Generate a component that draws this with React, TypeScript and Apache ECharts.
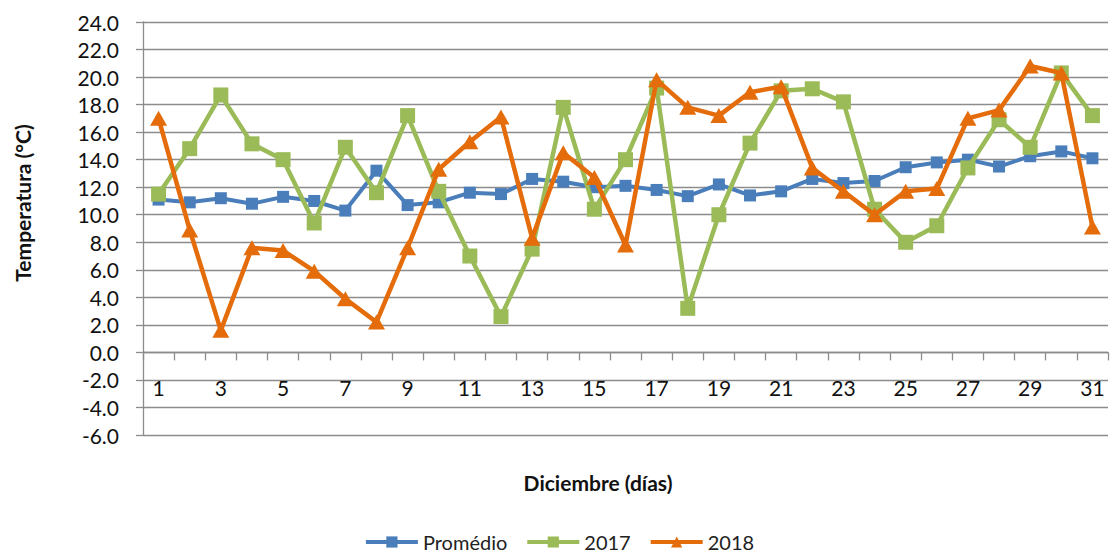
import React, { useEffect, useRef } from "react";
import * as echarts from "echarts";

const days = Array.from({ length: 31 }, (_, i) => String(i + 1));

const promedio = [11.1, 10.9, 11.2, 10.8, 11.3, 11.0, 10.3, 13.2, 10.7, 10.9, 11.6, 11.5, 12.6, 12.4, 12.0, 12.1, 11.8, 11.35, 12.2, 11.4, 11.7, 12.6, 12.3, 12.45, 13.45, 13.8, 14.0, 13.5, 14.25, 14.6, 14.1];
const y2017 = [11.5, 14.8, 18.7, 15.15, 14.0, 9.4, 14.9, 11.6, 17.2, 11.7, 7.0, 2.6, 7.5, 17.8, 10.4, 14.0, 19.2, 3.2, 10.0, 15.2, 19.0, 19.15, 18.2, 10.4, 8.0, 9.2, 13.4, 16.9, 14.9, 20.3, 17.2];
const y2018 = [17.0, 8.9, 1.6, 7.6, 7.4, 5.9, 3.9, 2.2, 7.6, 13.3, 15.3, 17.1, 8.3, 14.5, 12.7, 7.8, 19.8, 17.8, 17.2, 18.9, 19.3, 13.4, 11.7, 10.0, 11.7, 11.9, 17.0, 17.6, 20.8, 20.3, 9.1];

const seriesNames = ["Promédio", "2017", "2018"];
const colors = ["#4a7ebb", "#9bbb59", "#e46c0a"];
const yTitle = "Temperatura (°C)";
const xTitle = "Diciembre (días)";
const Y_MIN = -6;
const Y_MAX = 24;

const FONT = "Lato";
const GRID_COLOR = "#8c8c8c";
const GRID_TOP = 22;
const GRID_BOTTOM = 121;
const CHART_H = 556;

export default function App() {
  const ref = useRef<HTMLDivElement>(null);
  useEffect(() => {
    if (!ref.current) return;
    const chart = echarts.init(ref.current, null, { renderer: "svg" });
    const plotH = CHART_H - GRID_TOP - GRID_BOTTOM;
    const zeroOffset = -((0 - Y_MIN) / (Y_MAX - Y_MIN)) * plotH;
    chart.setOption({
      animation: false,
      backgroundColor: "#ffffff",
      textStyle: { fontFamily: FONT },
      grid: { left: 143, right: 10, top: GRID_TOP, bottom: GRID_BOTTOM, containLabel: false },
      legend: {
        left: "center",
        top: 527,
        itemWidth: 52,
        itemHeight: 14,
        itemGap: 18,
        lineStyle: { width: 4 },
        textStyle: { fontFamily: FONT, fontSize: 20, color: "#222" },
        data: seriesNames,
      },
      xAxis: {
        type: "category",
        data: days,
        boundaryGap: true,
        position: "bottom",
        offset: zeroOffset,
        axisLine: { onZero: false, lineStyle: { color: GRID_COLOR, width: 1.3 } },
        axisTick: { show: true, length: 8, alignWithLabel: false, interval: 0, lineStyle: { color: GRID_COLOR, width: 1.3 } },
        axisLabel: { interval: 1, margin: 25, fontFamily: FONT, fontSize: 21, color: "#111" },
        splitLine: { show: false },
      },
      yAxis: {
        type: "value",
        min: Y_MIN,
        max: Y_MAX,
        interval: 2,
        axisLine: { show: true, onZero: false, lineStyle: { color: GRID_COLOR, width: 1.3 } },
        axisTick: { show: true, length: 7, lineStyle: { color: GRID_COLOR, width: 1.3 } },
        axisLabel: {
          margin: 24,
          fontFamily: FONT,
          fontSize: 21,
          color: "#111",
          formatter: (v: number) => v.toFixed(1),
        },
        splitLine: { show: true, lineStyle: { color: GRID_COLOR, width: 1.3 } },
      },
      graphic: [
        {
          type: "text",
          x: 22,
          y: 203,
          rotation: Math.PI / 2,
          style: {
            text: yTitle,
            fontFamily: FONT,
            fontSize: 21,
            fontWeight: "bold",
            fill: "#111",
            textAlign: "center",
            textVerticalAlign: "middle",
          },
        },
        {
          type: "text",
          x: 598,
          y: 482,
          style: {
            text: xTitle,
            fontFamily: FONT,
            fontSize: 21,
            fontWeight: "bold",
            fill: "#111",
            textAlign: "center",
            textVerticalAlign: "middle",
          },
        },
      ],
      series: [
        {
          name: seriesNames[0],
          type: "line",
          data: promedio,
          symbol: "rect",
          symbolSize: 12,
          lineStyle: { color: colors[0], width: 4 },
          itemStyle: { color: colors[0] },
          z: 2,
        },
        {
          name: seriesNames[1],
          type: "line",
          data: y2017,
          symbol: "rect",
          symbolSize: 15,
          lineStyle: { color: colors[1], width: 4.5 },
          itemStyle: { color: colors[1] },
          z: 3,
        },
        {
          name: seriesNames[2],
          type: "line",
          data: y2018,
          symbol: "triangle",
          symbolSize: [17, 15],
          lineStyle: { color: colors[2], width: 4.5 },
          itemStyle: { color: colors[2] },
          z: 4,
        },
      ],
    });
    return () => chart.dispose();
  }, []);
  return (
    <div
      ref={ref}
      style={{ position: "fixed", left: 0, top: 0, width: 1118, height: 556, background: "#fff" }}
    />
  );
}
